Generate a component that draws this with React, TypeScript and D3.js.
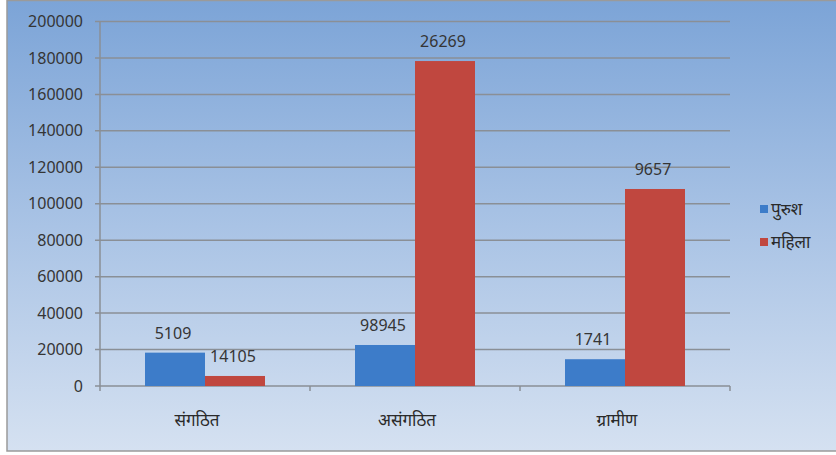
import React from 'react';
import * as d3 from 'd3';

const categories = ['संगठित', 'असंगठित', 'ग्रामीण'];
const seriesNames = ['पुरुश', 'महिला'];
const maleValues = [18300, 22500, 14700];
const femaleValues = [5500, 178300, 108100];
const maleLabels = ['5109', '98945', '1741'];
const femaleLabels = ['14105', '26269', '9657'];
const colors = ['#3d7cc9', '#c0473f'];

const width = 836;
const height = 455;
const margin = { top: 21.5, right: 106, bottom: 69, left: 100 };

const App = () => {
  const x = d3
    .scaleBand()
    .domain(categories)
    .range([margin.left, width - margin.right])
    .paddingInner(0)
    .paddingOuter(0);

  const xSub = d3
    .scaleBand()
    .domain(['m', 'f'])
    .range([0, x.bandwidth()])
    .paddingInner(0)
    .paddingOuter(0.75);

  const y = d3
    .scaleLinear()
    .domain([0, 200000])
    .range([height - margin.bottom, margin.top]);

  const ticks = y.ticks(10);
  const series = [
    { key: 'm', values: maleValues, labels: maleLabels },
    { key: 'f', values: femaleValues, labels: femaleLabels },
  ];
  const font = '"Noto Sans", "Open Sans", sans-serif';
  const x0 = margin.left;
  const x1 = width - margin.right;
  const y0 = y(0);

  return (
    <svg
      width={width}
      height={height}
      style={{ position: 'absolute', left: 0, top: 0, background: '#ffffff' }}
    >
      <defs>
        <linearGradient id="bg" x1="0" y1="0" x2="0" y2="1">
          <stop offset="0" stopColor="#7ca4d7" />
          <stop offset="0.5" stopColor="#a9c3e5" />
          <stop offset="1" stopColor="#d5e1f1" />
        </linearGradient>
      </defs>
      <rect x={7} y={0.5} width={width} height={450.5} fill="url(#bg)" stroke="#9a9a9a" strokeWidth={1.5} />

      {ticks.map((t) => (
        <g key={t}>
          <line x1={x0 - 5} x2={x1} y1={y(t)} y2={y(t)} stroke="#8a8f96" strokeWidth={1.5} />
          <text
            x={83}
            y={y(t)}
            dy="0.35em"
            textAnchor="end"
            fontFamily={font}
            fontSize={16}
            fill="#353535"
          >
            {t}
          </text>
        </g>
      ))}

      <line x1={x0} x2={x0} y1={y(200000)} y2={y0} stroke="#8a8f96" strokeWidth={1.5} />
      {d3.range(categories.length + 1).map((i) => {
        const px = i < categories.length ? x(categories[i]) : x1;
        return <line key={i} x1={px} x2={px} y1={y0} y2={y0 + 5} stroke="#8a8f96" strokeWidth={1.5} />;
      })}

      {categories.map((c, i) =>
        series.map((s, j) => (
          <g key={c + s.key}>
            <rect
              x={(x(c) ?? 0) + (xSub(s.key) ?? 0)}
              y={y(s.values[i])}
              width={xSub.bandwidth()}
              height={y0 - y(s.values[i])}
              fill={colors[j]}
            />
            <text
              x={(x(c) ?? 0) + (xSub(s.key) ?? 0) + xSub.bandwidth() / 2 - 2}
              y={y(s.values[i]) - 14}
              textAnchor="middle"
              fontFamily={font}
              fontSize={16}
              fill="#353535"
            >
              {s.labels[i]}
            </text>
          </g>
        ))
      )}

      {categories.map((c) => (
        <text
          key={c}
          x={(x(c) ?? 0) + x.bandwidth() / 2 - 8}
          y={426}
          textAnchor="middle"
          fontFamily={font}
          fontSize={17}
          fill="#2a2a2a"
        >
          {c}
        </text>
      ))}

      {seriesNames.map((n, i) => (
        <g key={n} transform={`translate(760,${205 + i * 33})`}>
          <rect width={8} height={8} fill={colors[i]} />
          <text x={11} y={4} dy="0.35em" fontFamily={font} fontSize={17} fill="#2a2a2a">
            {n}
          </text>
        </g>
      ))}
    </svg>
  );
};

export default App;
